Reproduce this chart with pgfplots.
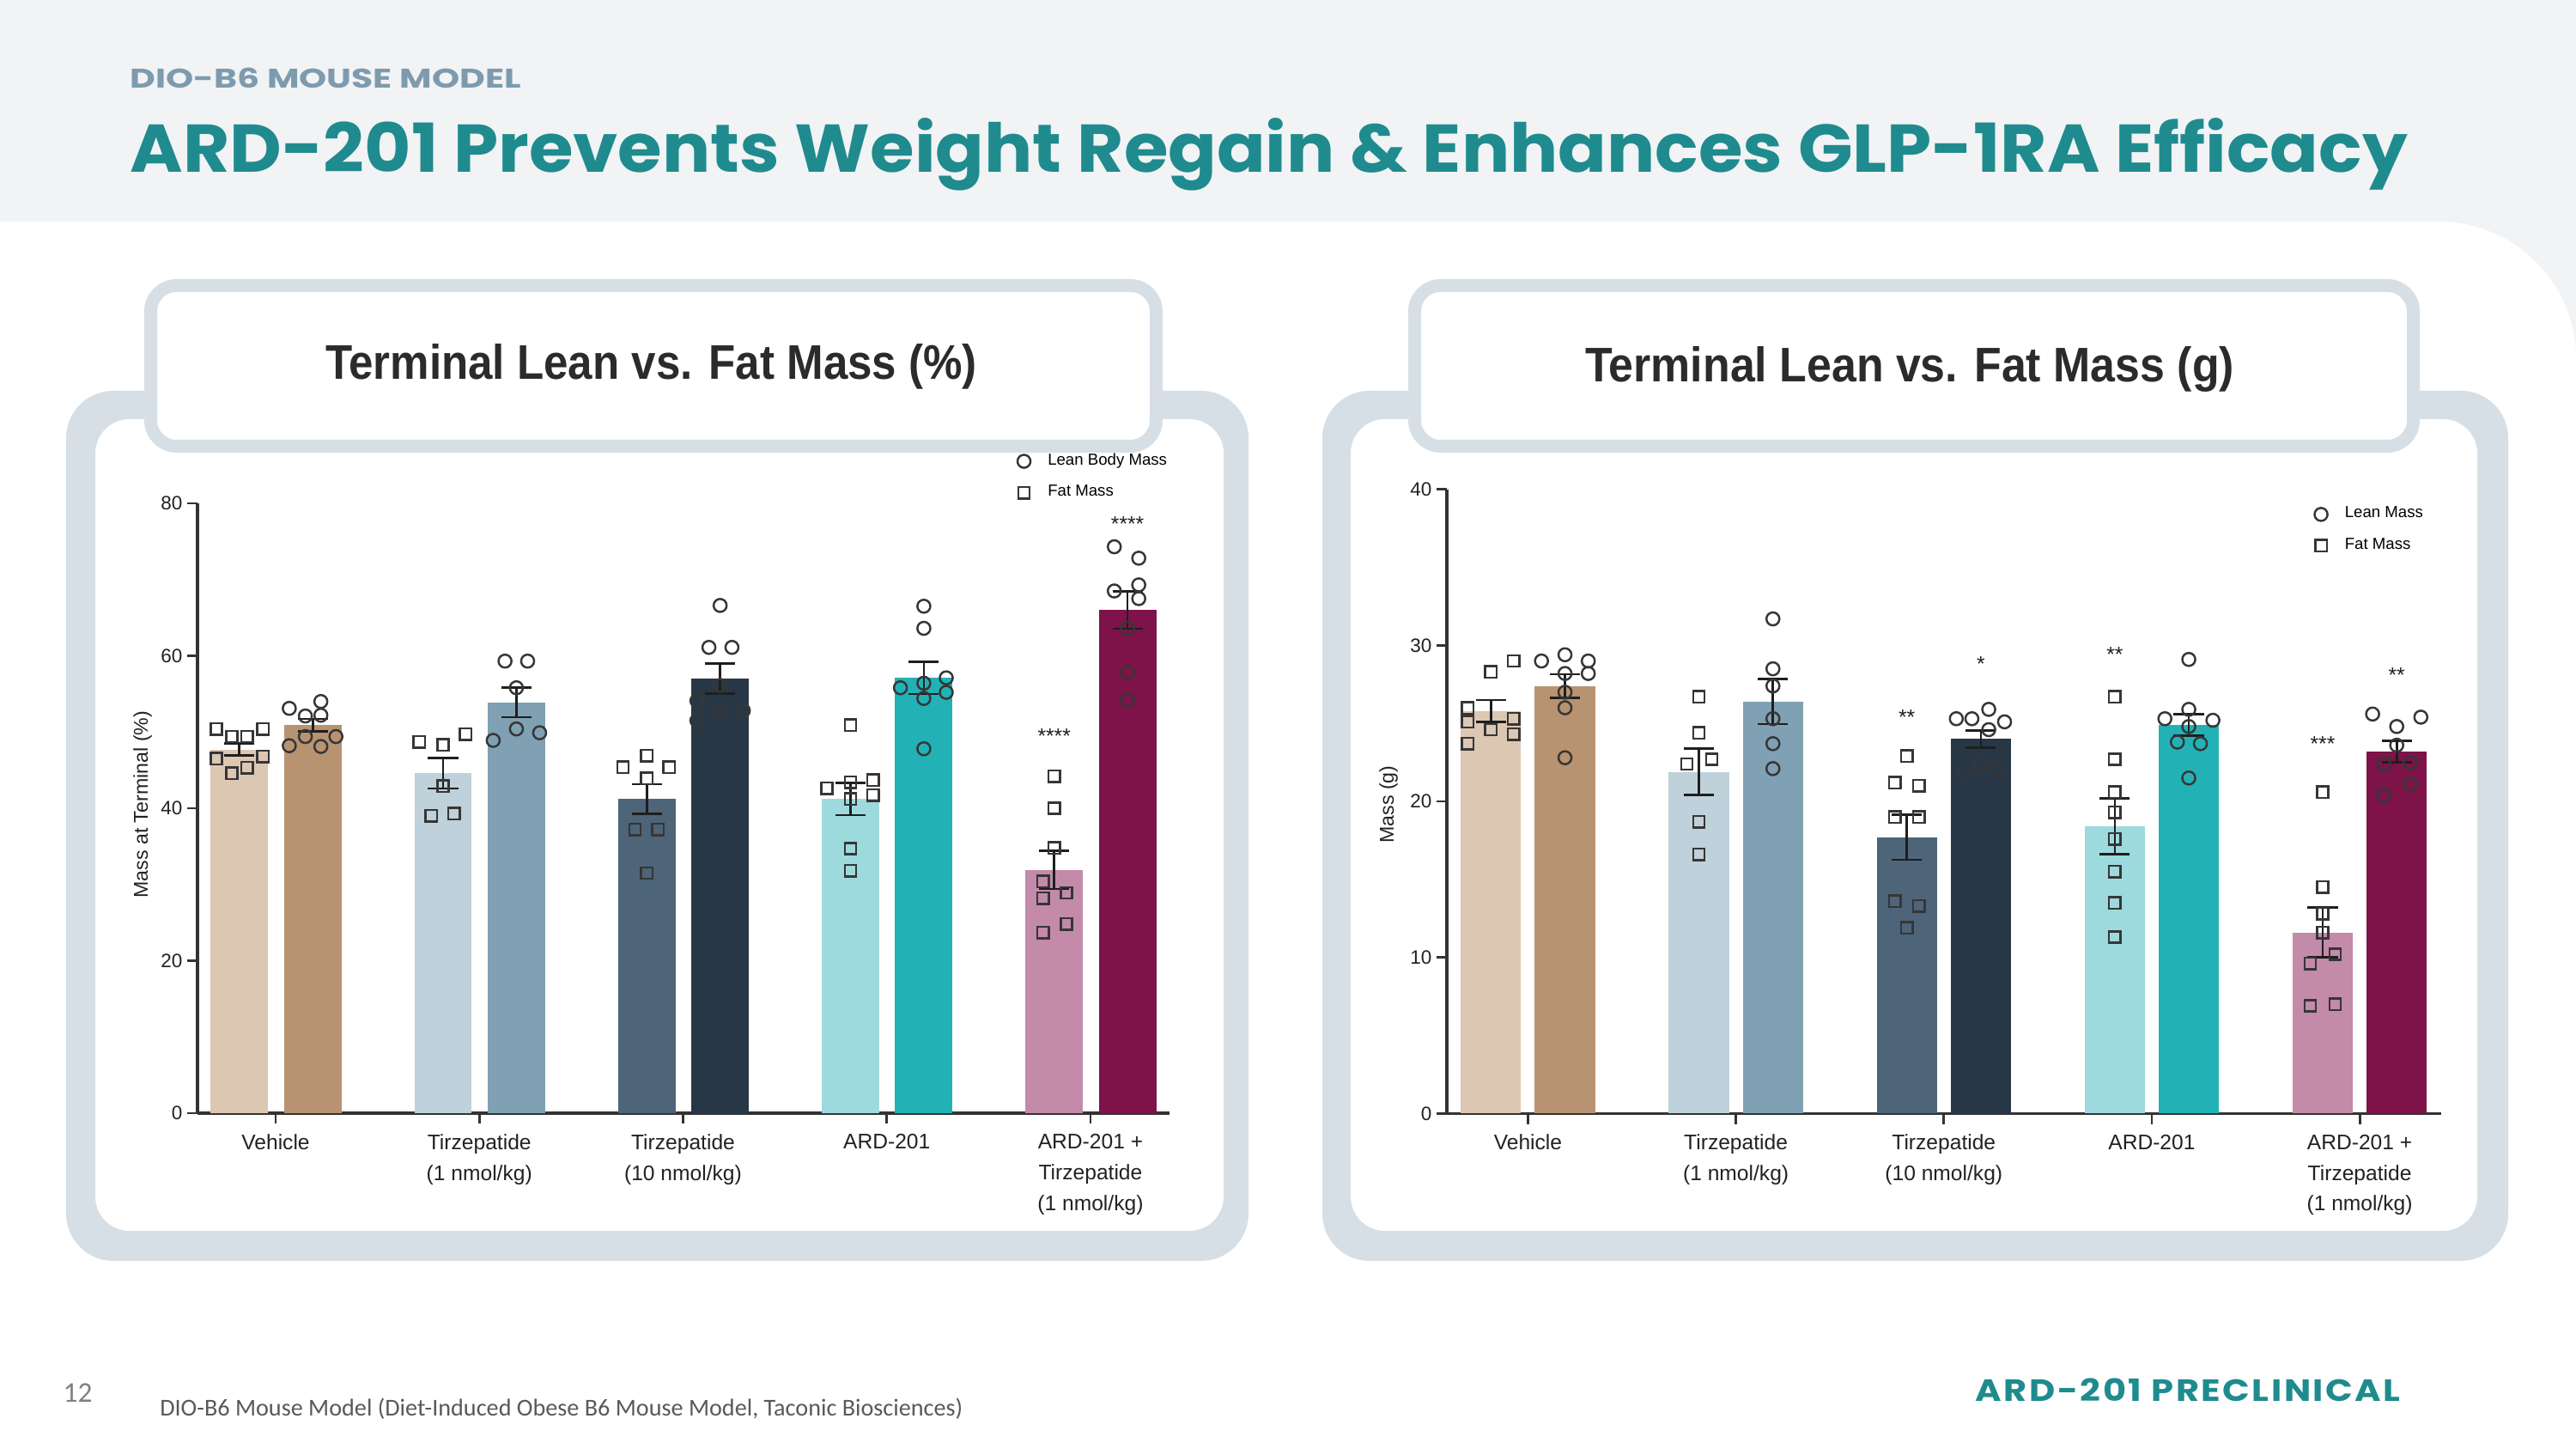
\documentclass[border=0pt]{standalone}
\usepackage{pgfplots}
\pgfplotsset{compat=1.18}
\usepackage{fontspec}
\usepackage{graphicx}
\setmainfont{Liberation Sans}
\newfontfamily\pop{Poppins}
\newfontfamily\carl{Carlito}

\definecolor{bgtop}{HTML}{F1F3F5}
\definecolor{panel}{HTML}{D6DFE6}
\definecolor{tealc}{HTML}{1F8B8E}
\definecolor{subc}{HTML}{7E9BAE}
\definecolor{titc}{HTML}{2B2B2B}
\definecolor{axc}{HTML}{333333}
\definecolor{labc}{HTML}{222222}
\definecolor{errc}{HTML}{1E1E1E}
\definecolor{ptc}{HTML}{363636}
\definecolor{vf}{HTML}{DCC7B2}
\definecolor{vl}{HTML}{B89371}
\definecolor{tof}{HTML}{BFD1DA}
\definecolor{tol}{HTML}{7FA1B3}
\definecolor{ttf}{HTML}{4E6479}
\definecolor{ttl}{HTML}{283746}
\definecolor{af}{HTML}{9CDADD}
\definecolor{al}{HTML}{22B2B6}
\definecolor{cf}{HTML}{C38AAA}
\definecolor{cl}{HTML}{7D1349}

\tikzset{sig/.style={font=\fontsize{7}{7}\selectfont, text=errc}}

\pgfplotsset{
  chartax/.style={
    scale only axis, clip=false,
    axis x line*=bottom, axis y line*=left,
    axis line style={line width=0.9pt, color=axc},
    tick style={line width=0.8pt, color=axc},
    tick align=outside, major tick length=3.5pt,
    xtick={0,1,2,3,4},
    xticklabels={Vehicle,{Tirzepatide\\(1 nmol/kg)},{Tirzepatide\\(10 nmol/kg)},ARD-201,{ARD-201 +\\Tirzepatide\\(1 nmol/kg)}},
    xticklabel style={font=\fontsize{7}{10.2}\selectfont, align=center, text=labc},
    yticklabel style={font=\fontsize{6.4}{7}\selectfont, text=labc, xshift=2pt},
    /pgf/number format/assume math mode=true,
    ylabel style={font=\fontsize{6.6}{8}\selectfont, text=labc},
    legend cell align=left,
    legend image code/.code={\draw[##1] plot coordinates {(0.1cm,0cm)}; \path (0.30cm,0cm);},
    legend style={draw=none, fill=none, font=\fontsize{5.3}{6}\selectfont, row sep=1.2pt, inner sep=0pt},
  },
  barst/.style={ybar, bar shift=0pt, draw=none, forget plot},
  errb/.style={error bars/.cd, y dir=both, y explicit,
    error bar style={line width=0.75pt, color=errc},
    error mark options={rotate=90, mark size=5pt, line width=0.75pt, color=errc}},
  circ/.style={only marks, mark=o, mark size=2.15pt, mark options={line width=0.7pt, draw=ptc, fill=none}, forget plot},
  sqr/.style={only marks, mark=square, mark size=1.9pt, mark options={line width=0.7pt, draw=ptc, fill=none}, forget plot},
}

\begin{document}
\begin{tikzpicture}[x=1cm,y=1cm]
\useasboundingbox (0,0) rectangle (30,16.87);
\fill[bgtop] (0,0) rectangle (30,16.87);
\fill[white] (0,0) -- (0,14.29) -- (28.4,14.29) arc[start angle=90, end angle=0, radius=1.6] -- (30,0) -- cycle;

% header
\node[anchor=base west, inner sep=0, text=subc] at (1.51,15.84) {\resizebox{4.55cm}{0.234cm}{\pop\bfseries DIO-B6 MOUSE MODEL}};
\node[anchor=base west, inner sep=0, text=tealc] at (1.51,14.86) {\resizebox{26.52cm}{0.63cm}{\pop\bfseries ARD-201 Prevents Weight Regain \& Enhances GLP-1RA Efficacy}};

% footer
\node[anchor=base west, inner sep=0, text=black!50] at (0.73,0.54) {\carl\fontsize{9.5}{10}\selectfont 12};
\node[anchor=base west, inner sep=0, text=black!65] at (1.856,0.387) {\resizebox{9.35cm}{!}{\carl DIO-B6 Mouse Model (Diet-Induced Obese B6 Mouse Model, Taconic Biosciences)}};
\node[anchor=base west, inner sep=0, text=tealc] at (23.0,0.553) {\resizebox{4.95cm}{0.267cm}{\pop\bfseries\addfontfeature{LetterSpace=6}ARD-201 PRECLINICAL}};

% panels
\fill[panel, rounded corners=0.55cm] (0.77,2.19) rectangle (14.54,12.32);
\fill[white, rounded corners=0.4cm] (1.11,2.54) rectangle (14.25,11.99);
\draw[panel, line width=0.15cm, fill=white, rounded corners=0.3cm] (1.755,11.675) rectangle (13.465,13.545);
\fill[panel, rounded corners=0.55cm] (15.40,2.19) rectangle (29.21,12.32);
\fill[white, rounded corners=0.4cm] (15.73,2.54) rectangle (28.85,11.99);
\draw[panel, line width=0.15cm, fill=white, rounded corners=0.3cm] (16.475,11.675) rectangle (28.105,13.545);

\node[anchor=base, inner sep=0, text=titc] at (7.585,12.45) {\resizebox{7.59cm}{0.41cm}{\bfseries Terminal Lean vs. Fat Mass (\%)}};
\node[anchor=base, inner sep=0, text=titc] at (22.24,12.42) {\resizebox{7.56cm}{0.41cm}{\bfseries Terminal Lean vs. Fat Mass (g)}};

% ---------------- left chart ----------------
\begin{axis}[chartax, at={(2.30cm,3.91cm)}, anchor=south west,
  width=11.32cm, height=7.10cm,
  xmin=-0.3836, xmax=4.388, ymin=0, ymax=80, ytick={0,20,40,60,80},
  ylabel={Mass at Terminal (\%)},
  ylabel style={at={(axis description cs:-0.0565,0.506)}, anchor=center},
  legend style={at={(0.843,1.093)}, anchor=north west}]
\addplot[barst, bar width=0.282, fill=vf, errb] coordinates {(-0.178,47.7) +- (0,0.8)};
\addplot[barst, bar width=0.282, fill=vl, errb] coordinates {(0.182,50.9) +- (0,0.8)};
\addplot[barst, bar width=0.282, fill=tof, errb] coordinates {(0.822,44.6) +- (0,2.0)};
\addplot[barst, bar width=0.282, fill=tol, errb] coordinates {(1.182,53.9) +- (0,1.95)};
\addplot[barst, bar width=0.282, fill=ttf, errb] coordinates {(1.822,41.2) +- (0,1.95)};
\addplot[barst, bar width=0.282, fill=ttl, errb] coordinates {(2.182,57.0) +- (0,1.95)};
\addplot[barst, bar width=0.282, fill=af, errb] coordinates {(2.822,41.2) +- (0,2.1)};
\addplot[barst, bar width=0.282, fill=al, errb] coordinates {(3.182,57.1) +- (0,2.1)};
\addplot[barst, bar width=0.282, fill=cf, errb] coordinates {(3.822,31.9) +- (0,2.5)};
\addplot[barst, bar width=0.282, fill=cl, errb] coordinates {(4.182,66.0) +- (0,2.45)};
% fat mass (squares)
\addplot[sqr] table[row sep=\\] {x y\\
-0.291 50.4\\ -0.215 49.4\\ -0.140 49.4\\ -0.063 50.4\\ -0.291 46.5\\ -0.215 44.6\\ -0.140 45.3\\ -0.063 46.8\\
0.705 48.7\\ 0.822 48.3\\ 0.933 49.7\\ 0.822 42.9\\ 0.764 39.0\\ 0.876 39.3\\
1.705 45.4\\ 1.822 46.9\\ 1.932 45.4\\ 1.822 43.9\\ 1.764 37.2\\ 1.876 37.2\\ 1.822 31.5\\
2.822 50.9\\ 2.706 42.6\\ 2.822 43.4\\ 2.933 43.7\\ 2.933 41.7\\ 2.822 41.2\\ 2.822 34.7\\ 2.822 31.8\\
3.822 44.2\\ 3.822 40.0\\ 3.822 34.8\\ 3.767 30.4\\ 3.767 28.2\\ 3.882 28.9\\ 3.882 24.8\\ 3.767 23.7\\
};
% lean mass (circles)
\addplot[circ] table[row sep=\\] {x y\\
0.067 53.1\\ 0.146 52.1\\ 0.222 54.0\\ 0.222 52.2\\ 0.067 48.2\\ 0.146 49.4\\ 0.222 48.1\\ 0.296 49.4\\
1.126 59.3\\ 1.237 59.3\\ 1.182 55.8\\ 1.068 48.9\\ 1.182 50.4\\ 1.296 49.9\\
2.182 66.6\\ 2.127 61.1\\ 2.240 61.1\\ 2.182 56.1\\ 2.068 54.1\\ 2.068 51.5\\ 2.182 52.8\\ 2.296 52.8\\
3.182 66.5\\ 3.182 63.6\\ 3.067 55.8\\ 3.182 56.4\\ 3.292 57.1\\ 3.292 55.2\\ 3.182 54.4\\ 3.182 47.8\\
4.117 74.3\\ 4.237 72.8\\ 4.117 68.5\\ 4.237 69.3\\ 4.237 67.5\\ 4.182 63.6\\ 4.182 57.8\\ 4.182 54.2\\
};
\node[sig] at (axis cs:3.822,49.5) {****};
\node[sig] at (axis cs:4.182,77.3) {****};
\addlegendimage{mark=o, mark size=2.15pt, mark options={line width=0.7pt, draw=ptc, fill=none}}
\addlegendentry{Lean Body Mass}
\addlegendimage{mark=square, mark size=1.9pt, mark options={line width=0.7pt, draw=ptc, fill=none}}
\addlegendentry{Fat Mass}
\end{axis}

% ---------------- right chart ----------------
\begin{axis}[chartax, at={(16.85cm,3.907cm)}, anchor=south west,
  width=11.58cm, height=7.265cm,
  xmin=-0.39, xmax=4.392, ymin=0, ymax=40, ytick={0,10,20,30,40},
  ylabel={Mass (g)},
  ylabel style={at={(axis description cs:-0.0587,0.495)}, anchor=center},
  legend style={at={(0.872,0.983)}, anchor=north west}]
\addplot[barst, bar width=0.29, fill=vf, errb] coordinates {(-0.178,25.8) +- (0,0.7)};
\addplot[barst, bar width=0.29, fill=vl, errb] coordinates {(0.178,27.4) +- (0,0.75)};
\addplot[barst, bar width=0.29, fill=tof, errb] coordinates {(0.822,21.9) +- (0,1.5)};
\addplot[barst, bar width=0.29, fill=tol, errb] coordinates {(1.178,26.4) +- (0,1.45)};
\addplot[barst, bar width=0.29, fill=ttf, errb] coordinates {(1.822,17.7) +- (0,1.45)};
\addplot[barst, bar width=0.29, fill=ttl, errb] coordinates {(2.178,24.0) +- (0,0.55)};
\addplot[barst, bar width=0.29, fill=af, errb] coordinates {(2.822,18.4) +- (0,1.8)};
\addplot[barst, bar width=0.29, fill=al, errb] coordinates {(3.178,24.9) +- (0,0.7)};
\addplot[barst, bar width=0.29, fill=cf, errb] coordinates {(3.822,11.6) +- (0,1.6)};
\addplot[barst, bar width=0.29, fill=cl, errb] coordinates {(4.178,23.2) +- (0,0.7)};
\addplot[sqr] table[row sep=\\] {x y\\
-0.290 26.0\\ -0.178 28.3\\ -0.069 29.0\\ -0.290 25.1\\ -0.290 23.7\\ -0.178 24.6\\ -0.069 25.3\\ -0.069 24.3\\
0.822 26.7\\ 0.822 24.4\\ 0.764 22.4\\ 0.884 22.7\\ 0.822 18.7\\ 0.822 16.6\\
1.822 22.9\\ 1.764 21.2\\ 1.880 21.0\\ 1.764 19.0\\ 1.880 19.0\\ 1.764 13.6\\ 1.880 13.3\\ 1.822 11.9\\
2.822 26.7\\ 2.822 22.7\\ 2.822 20.6\\ 2.822 19.3\\ 2.822 17.6\\ 2.822 15.5\\ 2.822 13.5\\ 2.822 11.3\\
3.822 20.6\\ 3.822 14.5\\ 3.822 12.8\\ 3.822 11.6\\ 3.882 10.2\\ 3.762 9.6\\ 3.762 6.9\\ 3.882 7.0\\
};
\addplot[circ] table[row sep=\\] {x y\\
0.065 29.0\\ 0.178 29.4\\ 0.290 29.0\\ 0.290 28.2\\ 0.178 28.2\\ 0.178 27.0\\ 0.178 26.0\\ 0.178 22.8\\
1.178 31.7\\ 1.178 28.5\\ 1.178 27.4\\ 1.178 25.3\\ 1.178 23.7\\ 1.178 22.1\\
2.060 25.3\\ 2.135 25.3\\ 2.216 25.9\\ 2.292 25.1\\ 2.216 24.6\\ 2.098 21.8\\ 2.178 22.4\\ 2.250 22.0\\
3.178 29.1\\ 3.178 25.9\\ 3.063 25.3\\ 3.294 25.2\\ 3.178 24.8\\ 3.123 23.8\\ 3.234 23.7\\ 3.178 21.5\\
4.062 25.6\\ 4.178 24.8\\ 4.294 25.4\\ 4.178 23.6\\ 4.116 22.4\\ 4.242 22.5\\ 4.116 20.4\\ 4.242 21.1\\
};
\node[sig] at (axis cs:1.822,25.4) {**};
\node[sig] at (axis cs:2.178,28.8) {*};
\node[sig] at (axis cs:2.822,29.4) {**};
\node[sig] at (axis cs:3.822,23.7) {***};
\node[sig] at (axis cs:4.178,28.1) {**};
\addlegendimage{mark=o, mark size=2.15pt, mark options={line width=0.7pt, draw=ptc, fill=none}}
\addlegendentry{Lean Mass}
\addlegendimage{mark=square, mark size=1.9pt, mark options={line width=0.7pt, draw=ptc, fill=none}}
\addlegendentry{Fat Mass}
\end{axis}
\end{tikzpicture}
\end{document}
